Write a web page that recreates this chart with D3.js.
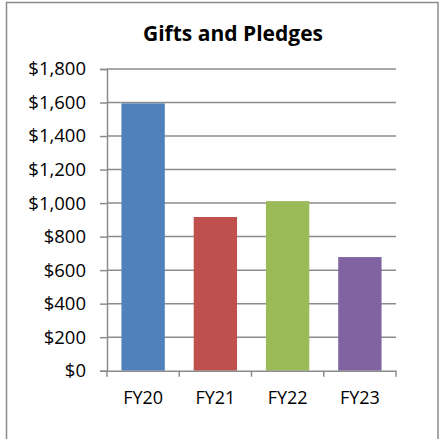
<!DOCTYPE html>
<html><head><meta charset="utf-8">
<script src="https://cdn.jsdelivr.net/npm/d3@7"></script>
<style>body{margin:0;background:#fff}svg{display:block}</style>
</head><body>
<script>
const categories = ["FY20","FY21","FY22","FY23"];
const values = [1595, 917, 1012, 678];
const colors = ["#4F81BD","#C0504D","#9BBB59","#8064A2"];
const yTicks = [0,200,400,600,800,1000,1200,1400,1600,1800];
const title = "Gifts and Pledges";

(function(){
const W = 439, H = 439;
const svg = d3.select("body").append("svg").attr("width", W).attr("height", H);
const font = "'Open Sans', sans-serif";

// outer border
svg.append("rect").attr("x",6.5).attr("y",2.5).attr("width",431.5).attr("height",445)
  .attr("fill","none").attr("stroke","#8a8a8a").attr("stroke-width",1.5);

const pLeft = 107, pRight = 396, pTop = 69, pBottom = 370.7;
const x = d3.scaleBand().domain(categories).range([pLeft,pRight]).paddingInner(0.4).paddingOuter(0.2);
const y = d3.scaleLinear().domain([0,1800]).range([pBottom, pTop]);

// gridlines
svg.append("g").selectAll("line").data(yTicks.filter(d=>d>0)).join("line")
  .attr("x1",pLeft).attr("x2",pRight).attr("y1",d=>y(d)).attr("y2",d=>y(d))
  .attr("stroke","#8c8c8c").attr("stroke-width",1.5);

// bars
svg.append("g").selectAll("rect").data(values).join("rect")
  .attr("x",(d,i)=>x(categories[i])).attr("width",x.bandwidth())
  .attr("y",d=>y(d)).attr("height",d=>y(0)-y(d))
  .attr("fill",(d,i)=>colors[i]);

// y axis
const yAxis = d3.axisLeft(y).tickValues(yTicks).tickSize(7).tickPadding(14)
  .tickFormat(d=>"$"+d3.format(",")(d));
const gy = svg.append("g").attr("transform",`translate(${pLeft},0)`).call(yAxis);
gy.select(".domain").attr("stroke","#8c8c8c").attr("stroke-width",1.5);
gy.selectAll(".tick line").attr("stroke","#8c8c8c").attr("stroke-width",1.5);
gy.selectAll(".tick text").attr("font-family",font).attr("font-size",18.5).attr("fill","#000");

// x axis
const xAxis = d3.axisBottom(x).tickSize(0).tickPadding(21);
const gx = svg.append("g").attr("transform",`translate(0,${pBottom})`).call(xAxis);
gx.select(".domain").attr("stroke","#8c8c8c").attr("stroke-width",1.5);
gx.selectAll(".tick text").attr("font-family",font).attr("font-size",18).attr("fill","#000");
const bounds = d3.range(categories.length+1).map(i => pLeft + i*(pRight-pLeft)/categories.length);
svg.append("g").selectAll("line").data(bounds).join("line")
  .attr("x1",d=>d).attr("x2",d=>d).attr("y1",pBottom).attr("y2",pBottom+6)
  .attr("stroke","#8c8c8c").attr("stroke-width",1.5);

// title
svg.append("text").attr("x",233).attr("y",41).attr("text-anchor","middle")
  .attr("font-family",font).attr("font-weight","bold").attr("font-size",21).attr("fill","#000")
  .text(title);
})();
</script>
</body></html>
